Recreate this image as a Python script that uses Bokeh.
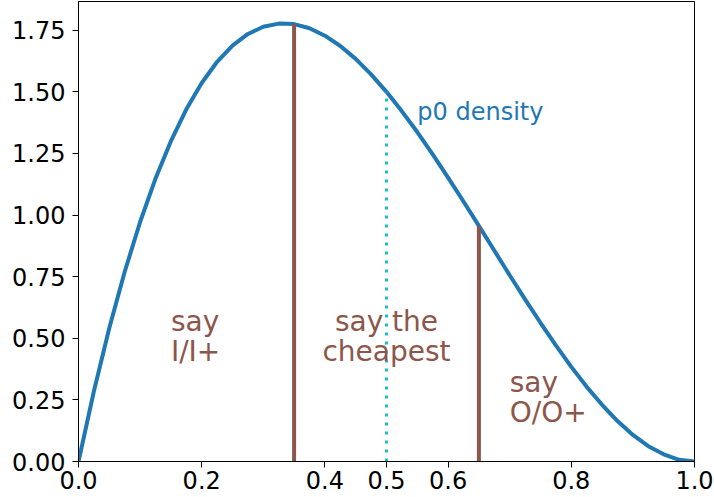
from bokeh.plotting import figure
from bokeh.models import FixedTicker, ColumnDataSource, Range1d
from bokeh.core.properties import value
from bokeh.embed import file_html
from bokeh.resources import INLINE

# curve samples
x_vals = [0.0, 0.025, 0.05, 0.075, 0.1, 0.125, 0.15, 0.175, 0.2, 0.225,
          0.25, 0.275, 0.3, 0.325, 0.35, 0.375, 0.4, 0.425, 0.45, 0.475,
          0.5, 0.525, 0.55, 0.575, 0.6, 0.625, 0.65, 0.675, 0.7, 0.725,
          0.75, 0.775, 0.8, 0.825, 0.85, 0.875, 0.9, 0.925, 0.95, 0.975, 1.0]
density = [0.0, 0.285, 0.542, 0.770, 0.972, 1.148, 1.300, 1.429, 1.536, 1.622,
           1.688, 1.735, 1.764, 1.777, 1.775, 1.758, 1.728, 1.686, 1.634, 1.571,
           1.500, 1.421, 1.337, 1.246, 1.152, 1.055, 0.956, 0.856, 0.756, 0.658,
           0.563, 0.471, 0.384, 0.303, 0.230, 0.164, 0.108, 0.062, 0.029, 0.007, 0.0]

cut_x = [0.35, 0.65]
cut_top = [1.775, 0.956]
mid_x = [0.5]
mid_top = [1.5]

x_ticks = [0.0, 0.2, 0.4, 0.5, 0.6, 0.8, 1.0]
y_ticks = [0.0, 0.25, 0.5, 0.75, 1.0, 1.25, 1.5, 1.75]

region_labels = ["say\nI/I+", "say the\ncheapest", "say\nO/O+"]
region_x = [0.15, 0.5, 0.7]
region_y = [0.508, 0.508, 0.26]
region_align = ["left", "center", "left"]

curve_label = ["p0 density"]
curve_label_x = [0.55]
curve_label_y = [1.42]

BLUE = "#1f77b4"
BROWN = "#8c564b"
CYAN = "#17becf"
FONT = "DejaVu Sans"

p = figure(width=714, height=497,
           x_range=Range1d(0, 1), y_range=Range1d(0, 1.8667),
           output_backend="svg", toolbar_location=None,
           min_border_left=78, min_border_right=20,
           min_border_top=1, min_border_bottom=36)

p.xgrid.visible = False
p.ygrid.visible = False
p.outline_line_color = "black"
p.outline_line_width = 1
p.outline_line_alpha = 1
p.background_fill_color = "white"
p.border_fill_color = "white"

for ax in (p.xaxis[0], p.yaxis[0]):
    ax.axis_line_color = "black"
    ax.axis_line_width = 1
    ax.major_tick_line_color = "black"
    ax.major_tick_in = 0
    ax.major_tick_out = 6
    ax.minor_tick_line_color = None
    ax.major_label_text_font = FONT
    ax.major_label_text_font_size = "24px"
    ax.major_label_text_color = "black"

p.xaxis.ticker = FixedTicker(ticks=x_ticks)
p.yaxis.ticker = FixedTicker(ticks=y_ticks)
p.xaxis.major_label_overrides = {t: f"{t:.1f}" for t in x_ticks}
p.yaxis.major_label_overrides = {t: f"{t:.2f}" for t in y_ticks}
p.xaxis.major_label_standoff = 3
p.yaxis.major_label_standoff = 7

p.line(x_vals, density, line_color=BLUE, line_width=4)

p.segment(x0=cut_x, y0=[0] * len(cut_x), x1=cut_x, y1=cut_top,
          line_color=BROWN, line_width=4)
p.segment(x0=mid_x, y0=[0] * len(mid_x), x1=mid_x, y1=mid_top,
          line_color=CYAN, line_width=3, line_dash="3 6")

src = ColumnDataSource(dict(x=region_x, y=region_y, text=region_labels,
                            align=region_align))
p.text(x="x", y="y", text="text", source=src, text_align="align",
       text_baseline="middle", text_font=value(FONT), text_font_size="28px",
       text_color=BROWN, text_line_height=0.9)

p.text(x=curve_label_x, y=curve_label_y, text=curve_label,
       text_align="left", text_baseline="alphabetic", text_font=value(FONT),
       text_font_size="24px", text_color=BLUE)

open("out.html", "w").write(file_html(p, INLINE))
